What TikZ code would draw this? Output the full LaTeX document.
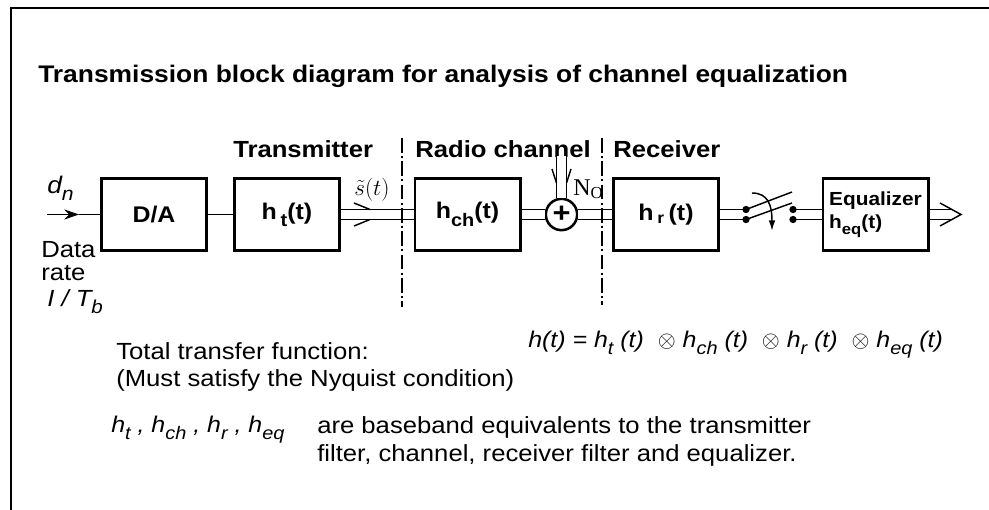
\documentclass[tikz,border=0pt]{standalone}
\usepackage{fontspec}
\setmainfont{Liberation Sans}[FakeStretch=1.1]
\newfontfamily\serif{Liberation Serif}
\usetikzlibrary{arrows.meta}
\newcommand{\lowsub}[1]{\raisebox{-0.32em}{\scalebox{0.8}{#1}}}
\tikzset{
  block/.style={draw, line width=2.2pt, minimum width=78.8pt, minimum height=54pt,
    inner sep=1pt, font=\bfseries\fontsize{17}{20}\selectfont},
  sig/.style={line width=1.1pt},
  dbl/.style={draw, line width=1.1pt, double=white, double distance=6.4pt},
  sep/.style={line width=1.4pt, dash pattern=on 11pt off 2.5pt on 1.5pt off 2.5pt},
  lbl/.style={inner sep=0pt, anchor=base west, font=\bfseries\fontsize{17.5}{20}\selectfont},
  txt/.style={inner sep=0pt, anchor=base west, font=\fontsize{17.5}{20}\selectfont},
  dot/.style={circle, fill, inner sep=0pt, minimum size=5.5pt},
}
\begin{document}
\begin{tikzpicture}[x=0.75pt,y=-0.75pt]
\useasboundingbox (0,0) rectangle (989,510);
% frame
\draw[line width=1.6pt] (11,510) -- (11,8) -- (989,8);
\node[inner sep=0pt, anchor=base west, font=\bfseries\fontsize{18}{20}\selectfont] (title) at (38,83)
  {Transmission block diagram for analysis of channel equalization};
% section labels
\node[lbl] (tx) at (233,157) {Transmitter};
\node[lbl] (ch) at (415,157) {Radio channel};
\node[lbl] (rx) at (613,157) {Receiver};
% blocks
\node[block] (da) at (154,214.5) {D/A};
\node[block] (ht) at (287,214.5) {h\,\lowsub{t}(t)};
\node[block] (hch) at (467.5,214.5) {h\lowsub{ch}(t)};
\node[draw, circle, line width=1.9pt, minimum size=23.5pt, inner sep=0pt,
  font=\bfseries\fontsize{21}{21}\selectfont] (sum) at (561.5,214.5) {+};
\node[block] (hr) at (666,214.5) {h\,\textsubscript{r}\,(t)};
\node[block, align=left, font=\bfseries\fontsize{14.2}{17}\selectfont] (eq) at (875.5,214.5)
  {Equalizer\\h\lowsub{eq}(t)};
% input
\coordinate (din) at (47,214.5);
\coordinate (dmid) at (79,214.5);
\draw[sig,-{Stealth[length=11pt,width=7.5pt]}] (din) -- (dmid);
\draw[sig] (dmid) -- (da.west);
\node[txt, font=\itshape\fontsize{18}{20}\selectfont] (dn) at (47,193) {d\lowsub{n}};
\node[txt] (data) at (41,257) {Data};
\node[txt] (rate) at (41,280) {rate};
\node[txt, font=\itshape\fontsize{17.5}{20}\selectfont] (rb) at (47,306) {I / T\lowsub{b}};
% signal path
\draw[sig] (da.east) -- (ht.west);
\draw[dbl] (ht.east) -- (hch.west);
\draw[dbl] (hch.east) -- (sum.west);
\draw[dbl] (sum.east) -- (hr.west);
\coordinate (stip) at (370,214.5);
\draw[sig] ([shift={(-16,-11.5)}]stip) -- ([shift={(0,-5)}]stip);
\draw[sig] ([shift={(-16,11.5)}]stip) -- ([shift={(0,5)}]stip);
\node[inner sep=0pt, font=\fontsize{19}{20}\selectfont] (st) at (372,190) {$\tilde{s}(t)$};
% noise
\coordinate (noise) at (561.5,156);
\draw[dbl] (noise) -- (sum.north);
\draw[sig] (552,169) -- (556.5,183);
\draw[sig] (571,169) -- (566.5,183);
\node[inner sep=0pt, anchor=base west, font=\serif\fontsize{18}{20}\selectfont] (n0) at (573,195) {N\textsubscript{O}};
% sampling switch
\coordinate (swa) at (746,214.5);
\coordinate (swb) at (793,214.5);
\draw[dbl] (hr.east) -- (swa);
\draw[dbl] (swb) -- (eq.west);
\draw[sig] ([shift={(0,-5)}]swa) -- (792,192);
\draw[sig] ([shift={(0,5)}]swa) -- (792,203);
\foreach \p in {swa,swb} {
  \node[dot] at ([shift={(0,-5)}]\p) {};
  \node[dot] at ([shift={(0,5)}]\p) {};
}
\draw[sig,-{Latex[length=8pt,width=5pt]}] (752,193) .. controls (768,193) and (772,205) .. (772,231);
% output
\coordinate (out) at (951,214.5);
\draw[dbl] (eq.east) -- (out);
\draw[sig] (940,203) -- (961,214.5) -- (940,226);
% separators
\draw[sep] (402,138) -- (402,307);
\draw[sep] (602,138) -- (602,305);
% bottom text
\node[txt] (tot) at (116,359) {Total transfer function:};
\node[txt] (nyq) at (116,386) {(Must satisfy the Nyquist condition)};
\node[txt, font=\itshape\fontsize{17}{20}\selectfont] (form) at (528,347)
  {h(t) = h\lowsub{t} (t) \ $\otimes$ h\lowsub{ch} (t) \ $\otimes$ h\lowsub{r} (t) \ $\otimes$ h\lowsub{eq} (t)};
\node[txt, font=\itshape\fontsize{17}{20}\selectfont] (hlist) at (111,432)
  {h\lowsub{t} , h\lowsub{ch} , h\lowsub{r} , h\lowsub{eq}};
\node[txt] (eqv1) at (317,433) {are baseband equivalents to the transmitter};
\node[txt] (eqv2) at (317,461) {filter, channel, receiver filter and equalizer.};
\end{tikzpicture}
\end{document}
